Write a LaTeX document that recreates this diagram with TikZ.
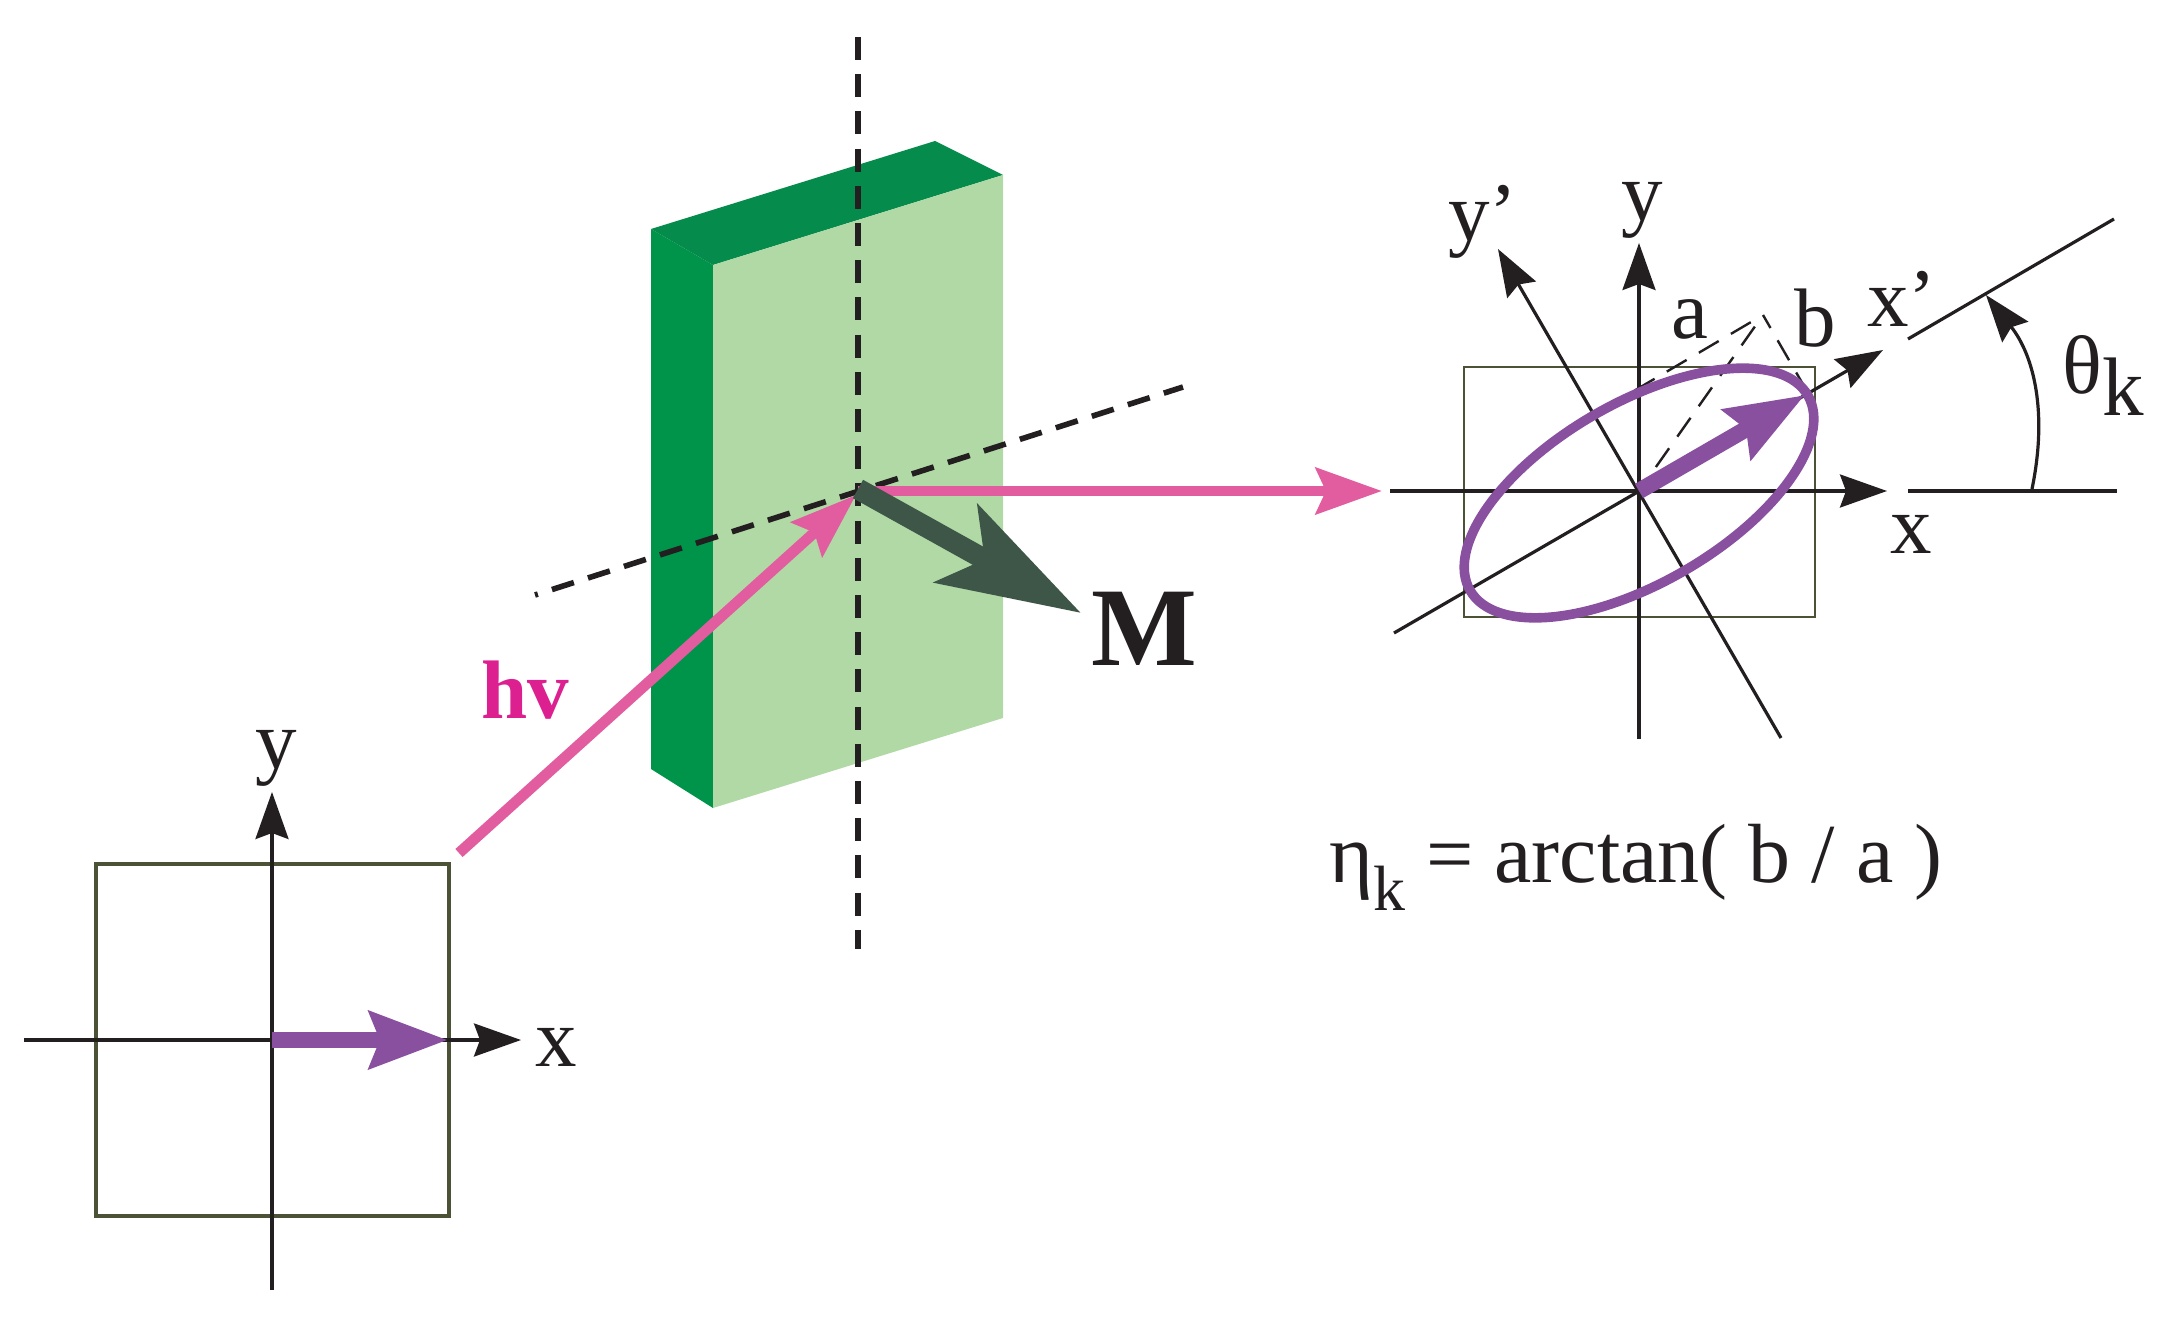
\documentclass[tikz,border=0pt]{standalone}
\usepackage{fontspec}
\setmainfont{Liberation Serif}
\usetikzlibrary{arrows.meta}
\definecolor{inkblack}{HTML}{231F20}
\definecolor{boxolive}{HTML}{4B5236}
\definecolor{raypink}{HTML}{E25CA0}
\definecolor{hvpink}{HTML}{DC2090}
\definecolor{vecpurple}{HTML}{8A50A0}
\definecolor{magdark}{HTML}{3E5648}
\definecolor{slabtop}{HTML}{058B4B}
\definecolor{slabside}{HTML}{00934A}
\definecolor{slabfront}{HTML}{B1D9A6}
\tikzset{
  axisline/.style={inkblack,line width=1.6pt},
  axisarrow/.style={axisline,-{Stealth[length=23.5pt,width=16.5pt,inset=3pt]}},
  boxline/.style={boxolive},
  dashlong/.style={inkblack,dash pattern=on 11.5pt off 7.1pt},
  rayarrow/.style={raypink,line width=5.4pt,-{Stealth[length=33pt,width=23pt,inset=5pt]}},
  polarrow/.style={vecpurple,line width=8.2pt,-{Stealth[length=39pt,width=28pt,inset=5pt]}},
  lbl/.style={inner sep=0pt,anchor=base,inkblack,font=\fontsize{41.5}{45}\selectfont},
  lblw/.style={lbl,anchor=base west},
}
\begin{document}
\begin{tikzpicture}[x=0.5pt, y=-0.5pt]
      \useasboundingbox (0,0) rectangle (2160,1317);
      % sample
      \fill[slabtop] (651,229) -- (935,141) -- (1003,175) -- (713,265) -- cycle;
      \fill[slabside] (651,229) -- (713,265) -- (713,808) -- (651,769) -- cycle;
      \fill[slabfront] (713,265) -- (1003,175) -- (1003,718) -- (713,808) -- cycle;
      \coordinate (ntop) at (858,37);
      \coordinate (nbot) at (858,949);
      \coordinate (tend) at (535,595);
      \coordinate (tfar) at (1183,387);
      \draw[dashlong,line width=3pt] (ntop) -- (nbot);
      \draw[inkblack,line width=2.8pt,dash pattern=on 11.5pt off 7.4pt,dash phase=10pt] (tend) -- (tfar);
      % incident light
      \coordinate (raystart) at (459,853);
      \coordinate (hit) at (856,495);
      \coordinate (raycentre) at (858,491);
      \coordinate (raytip) at (1382,491);
      \draw[rayarrow] (raystart) -- (hit);
      \draw[rayarrow] (raycentre) -- (raytip);
      \coordinate (magstart) at (858,489);
      \coordinate (magtip) at (1081,613);
      \draw[magdark,line width=10.5pt,-{Stealth[length=71pt,width=44pt,inset=16pt]}] (magstart) -- (magtip);
      \node[lblw,font=\bfseries\fontsize{56}{60}\selectfont] (mlabel) at (1091,665) {M};
      \node[lblw,hvpink,font=\bfseries\fontsize{41.5}{45}\selectfont] (hvlabel) at (481,718) {hv};
      % before the sample
      \draw[boxline,line width=1.8pt] (96,864) rectangle (449,1216);
      \coordinate (ainc) at (272,1040);
      \coordinate (xinA) at (24,1040);
      \coordinate (xinB) at (521,1040);
      \coordinate (yinA) at (272,1290);
      \coordinate (yinB) at (272,792);
      \coordinate (einc) at (448,1040);
      \draw[axisarrow] (xinA) -- (xinB);
      \draw[axisarrow] (yinA) -- (yinB);
      \draw[polarrow] (ainc) -- (einc);
      \node[lbl] (xinlabel) at (556,1066) {x};
      \node[lbl] (yinlabel) at (276,768) {y};
      % after the sample
      \draw[boxline,line width=1.2pt] (1464,367) rectangle (1815,617);
      \coordinate (cen) at (1639,491);
      \coordinate (xoutA) at (1390,491);
      \coordinate (xoutB) at (1887,491);
      \coordinate (youtA) at (1639,739);
      \coordinate (youtB) at (1639,243);
      \coordinate (xpA) at (1394,633);
      \coordinate (xpB) at (1883,350);
      \coordinate (ypA) at (1781,738);
      \coordinate (ypB) at (1498,249);
      \coordinate (apex) at (1763,315);
      \coordinate (aend) at (1610,405);
      \coordinate (bend) at (1808,393);
      \coordinate (eout) at (1805,395);
      \draw[axisarrow] (xoutA) -- (xoutB);
      \draw[axisarrow] (youtA) -- (youtB);
      \draw[axisarrow] (xpA) -- (xpB);
      \draw[axisarrow] (ypA) -- (ypB);
      \draw[dashlong,line width=1.2pt,dash phase=11.5pt] (apex) -- (cen);
      \draw[dashlong,line width=1.2pt,dash phase=11.5pt] (apex) -- (aend);
      \draw[dashlong,line width=1.2pt,dash phase=4pt] (apex) -- (bend);
      \draw[vecpurple,line width=4.8pt] (1639,493) ellipse [x radius=97.5pt,y radius=45pt,rotate=30];
      \draw[polarrow] (cen) -- (eout);
      % rotation angle
      \coordinate (hlineA) at (1908,491);
      \coordinate (hlineB) at (2117,491);
      \coordinate (tlineA) at (1908,339);
      \coordinate (tlineB) at (2114,219);
      \coordinate (arcA) at (2032,489);
      \coordinate (arcB) at (1986,295);
      \draw[inkblack,line width=1.8pt] (hlineA) -- (hlineB);
      \draw[axisline] (tlineA) -- (tlineB);
      \draw[axisarrow] (arcA) to[bend right=25] (arcB);
      \node[lbl] (xoutlabel) at (1911,553) {x};
      \node[lbl] (youtlabel) at (1642,220) {y};
      \node[lblw] (xplabel) at (1867,326) {x’};
      \node[lblw] (yplabel) at (1448,240) {y’};
      \node[lbl] (alabel) at (1690,338) {a};
      \node[lbl] (blabel) at (1815,346) {b};
      \node[lblw] (thlabel) at (2062,393) {θ\lower11pt\hbox{k}};
      \node[lblw,font=\fontsize{42}{46}\selectfont] (etalabel) at (1329,882) {η\lower14pt\hbox{\fontsize{32}{35}\selectfont k} = arctan( b / a )};
\end{tikzpicture}
\end{document}
